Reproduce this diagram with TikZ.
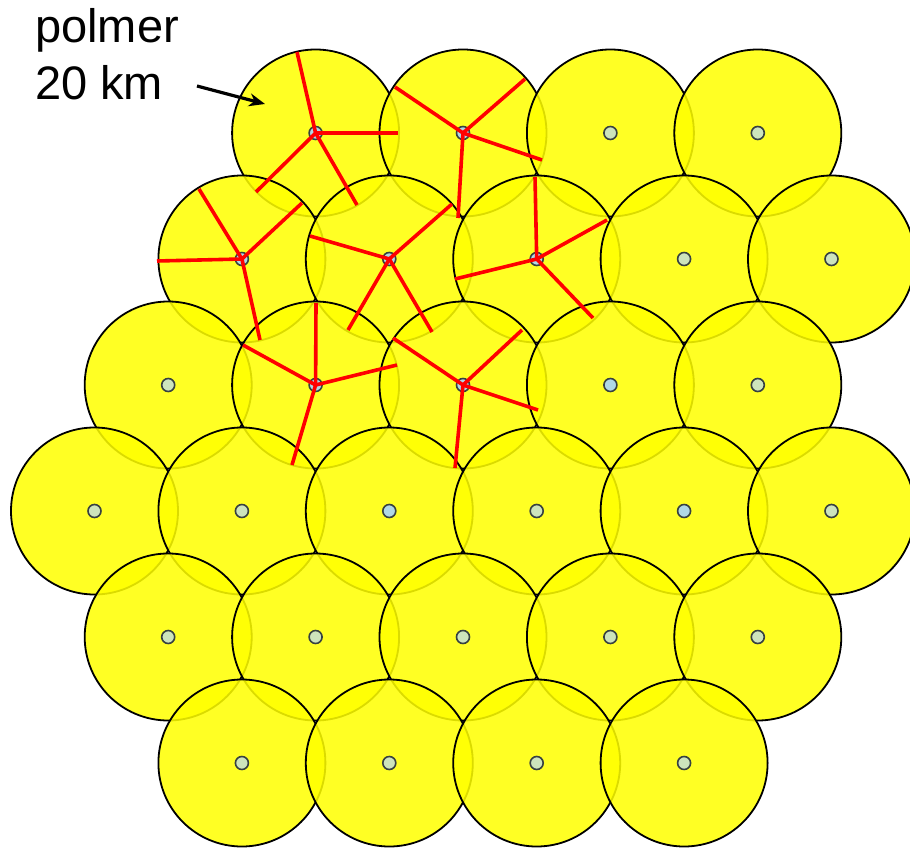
\documentclass[tikz,border=0pt]{standalone}
\usepackage{fontspec}
\setmainfont{Liberation Sans}
\usetikzlibrary{arrows.meta}
\definecolor{cellyellow}{RGB}{255,255,0}
\definecolor{dotgreen}{RGB}{205,228,188}
\definecolor{dotblue}{RGB}{176,216,230}
\definecolor{dotedge}{RGB}{55,65,65}
\definecolor{spokered}{RGB}{255,0,0}
\begin{document}
\begin{tikzpicture}[x=1pt,y=-1pt,
  cell/.style={circle, draw=black, line width=1.8pt, fill=cellyellow, fill opacity=0.86, inner sep=0pt, minimum size=167pt},
  dot/.style={circle, draw=dotedge, line width=1.6pt, fill=dotgreen, inner sep=0pt, minimum size=13pt},
  dotcol-2-7/.style={fill=dotblue},
  dotcol-3-4/.style={fill=dotblue},
  dotcol-3-8/.style={fill=dotblue},
  dotcol-0-5/.style={fill=dotblue},
  dotcol-0-3/.style={fill=dotblue},
  dotcol-1-2/.style={fill=dotblue},
  dotcol-1-4/.style={fill=dotblue},
  dotcol-1-6/.style={fill=dotblue},
  dotcol-2-3/.style={fill=dotblue},
  dotcol-2-5/.style={fill=dotblue},
  spoke/.style={draw=spokered, line width=3.6pt},
  lbl/.style={font=\fontsize{47}{56}\selectfont, inner sep=0pt, text=black},
  pointer/.style={draw=black, line width=3.2pt, -{Stealth[length=16pt,width=13pt]}}
]
\fill[white] (0,0) rectangle (910,850);
\useasboundingbox (0,0) rectangle (910,850);

% cells
\foreach \i/\js in {0/{3,5,7,9},1/{2,4,6,8,10},2/{1,3,5,7,9},3/{0,2,4,6,8,10},4/{1,3,5,7,9},5/{2,4,6,8}} {
  \foreach \j in \js {
    \node[cell] (c-\i-\j) at ({94.5+73.7*\j},{133+126*\i}) {};
  }
}
% centre dots
\foreach \i/\js in {0/{3,5,7,9},1/{2,4,6,8,10},2/{1,3,5,7,9},3/{0,2,4,6,8,10},4/{1,3,5,7,9},5/{2,4,6,8}} {
  \foreach \j in \js {
    \node[dot, dotcol-\i-\j/.try] (d-\i-\j) at (c-\i-\j.center) {};
  }
}
% red spokes
\foreach \c/\pts in {
  0-3/{297/52,398/133,256/192,357/205},
  0-5/{395/87,525/79,542/160,458/218},
  1-2/{199/189,302/203,157/261,260/340},
  1-4/{310/236,452/204,348/330,432/332},
  1-6/{535/177,607/220,455/279,593/318},
  2-3/{243/345,316/303,397/365,292/465},
  2-5/{393/338,522/330,538/410,455/468}} {
  \foreach \px/\py [count=\k] in \pts {
    \coordinate (s-\c-\k) at (\px,\py);
    \draw[spoke] (d-\c.center) -- (s-\c-\k);
  }
}

% label and arrow
\node[lbl, anchor=base west] (t1) at (35,43) {polmer};
\node[lbl, anchor=base west] (t2) at (35,100) {20 km};
\coordinate (a0) at (197,86);
\coordinate (a1) at (265,104);
\draw[pointer] (a0) -- (a1);
\end{tikzpicture}
\end{document}
